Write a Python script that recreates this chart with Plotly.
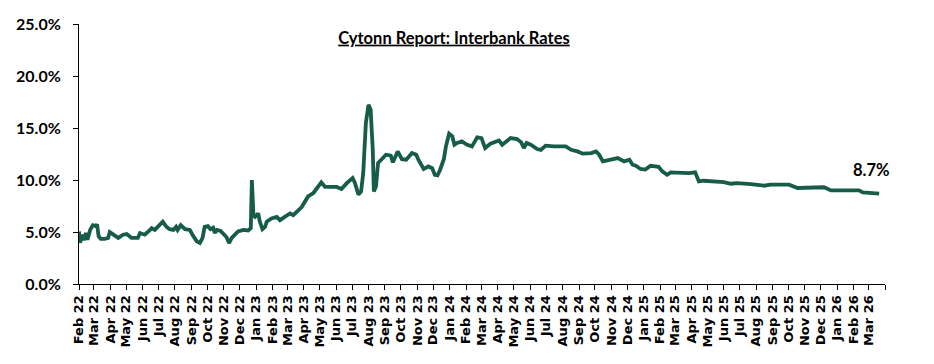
import pandas as pd
import plotly.graph_objects as go

# Days elapsed since 1 Feb 2022 and interbank rate (%)
day_offsets = [
    0, 2, 6, 9, 13, 16, 21, 26, 32, 34, 37, 41, 48, 55, 58, 64, 74, 83, 90, 99,
    111, 115, 124, 134, 137, 143, 149, 158, 165, 171, 178, 183, 186, 192, 200,
    209, 214, 222, 228, 233, 237, 243, 248, 253, 256, 260, 267, 273, 278, 283,
    288, 294, 300, 310, 319, 324, 326, 329, 332, 338, 341, 346, 351, 354, 363,
    373, 379, 388, 398, 404, 410, 420,
    432, 442, 457, 464, 486, 495, 505, 516, 520, 527, 532, 536, 541, 546, 550,
    554, 556, 560, 564, 571, 579, 588, 592, 601, 609, 617, 628, 636, 640, 650,
    659, 666, 671, 676, 681, 688, 692, 698, 704, 708, 713, 722, 732, 741, 751,
    759, 766, 776, 792, 798, 814, 826, 834, 839, 844, 852, 864, 871, 880, 896,
    918, 928, 940, 950, 966, 975, 981, 988,
    1004, 1016, 1028, 1038, 1044, 1050, 1059, 1068, 1078, 1093, 1100, 1109,
    1116, 1134, 1150, 1162, 1169, 1178, 1191, 1216, 1229, 1241, 1267, 1279,
    1292, 1304, 1339, 1355, 1380, 1405, 1418, 1449, 1471, 1478, 1494, 1509,
]
rates = [
    5.06, 3.97, 4.74, 4.2, 4.9, 4.26, 5.2, 5.65, 5.56, 5.75, 4.6, 4.33, 4.33,
    4.43, 4.99, 4.74, 4.43, 4.74, 4.8, 4.43, 4.43, 4.9, 4.74, 5.2, 5.37, 5.2,
    5.5, 6.0, 5.5, 5.27, 5.2, 5.5, 5.2, 5.65, 5.27, 5.2, 4.74, 4.1, 3.94, 4.43,
    5.5, 5.56, 5.27, 5.4, 4.9, 5.2, 5.1, 4.74, 4.52, 3.94, 4.43, 4.74, 5.06,
    5.2, 5.15, 5.37, 10.0, 6.6, 6.46, 6.78, 6.0, 5.27, 5.5, 6.0, 6.3, 6.46,
    6.14, 6.46, 6.78, 6.62, 6.94, 7.4,
    8.42, 8.75, 9.77, 9.33, 9.33, 9.13, 9.7, 10.19, 9.77, 8.59, 8.9, 10.67,
    15.48, 17.24, 16.76, 12.9, 8.9, 9.38, 11.63, 12.0, 12.43, 12.34, 11.7,
    12.75, 12.0, 11.95, 12.6, 12.43, 11.95, 11.06, 11.3, 11.14, 10.5, 10.45,
    10.99, 12.0, 13.23, 14.45, 14.19, 13.39, 13.56, 13.71, 13.39, 13.23, 14.1,
    14.03, 13.07, 13.5, 13.8, 13.39, 14.03, 13.94, 13.62, 13.07, 13.56, 13.39,
    12.98, 12.9, 13.3, 13.23, 13.23, 12.9, 12.75, 12.53, 12.59, 12.75, 12.43,
    11.79,
    11.95, 12.11, 11.79, 11.95, 11.47, 11.37, 11.06, 11.0, 11.37, 11.26, 10.83,
    10.5, 10.74, 10.67, 10.67, 10.74, 9.87, 9.93, 9.87, 9.8, 9.64, 9.7, 9.61,
    9.55, 9.45, 9.55, 9.55, 9.23, 9.23, 9.3, 9.0, 9.0, 9.0, 8.81, 8.74, 8.68,
]

tick_dates = pd.date_range("2022-02-01", "2026-04-01", freq="MS")
tick_labels = [d.strftime("%b %y") for d in tick_dates[:-1]] + [""]
y_ticks = [0, 5, 10, 15, 20, 25]
title_text = "Cytonn Report: Interbank Rates"
last_label = "8.7%"

dates = pd.Timestamp("2022-02-01") + pd.to_timedelta(day_offsets, unit="D")

fig = go.Figure()
fig.add_trace(go.Scatter(
    x=dates, y=rates, mode="lines",
    line=dict(color="#165c48", width=3.8),
    showlegend=False, hoverinfo="x+y",
))

fig.add_annotation(
    x=dates[-1], y=rates[-1], text="<b>" + last_label + "</b>",
    showarrow=False, xanchor="center", yanchor="bottom", yshift=12, xshift=-8,
    font=dict(family="Lato", size=16.5, color="black"),
)

# page body adds an 8px offset; sizes/margins compensate for it
fig.update_layout(
    width=926, height=356,
    margin=dict(l=71, r=49, t=16, b=80),
    paper_bgcolor="white", plot_bgcolor="white",
    title=dict(
        text="<b><u>" + title_text + "</u></b>",
        x=0.4816, xanchor="center", y=0.916, yanchor="middle",
        font=dict(family="Lato", size=16.5, color="black"),
    ),
)

fig.update_xaxes(
    type="date",
    range=[tick_dates[0], tick_dates[-1]],
    tickmode="array", tickvals=tick_dates, ticktext=tick_labels,
    tickangle=-90,
    tickfont=dict(family="DejaVu Sans", size=13, color="black", weight="bold"),
    showline=True, linecolor="black", linewidth=1,
    ticks="outside", ticklen=5, tickcolor="black", tickwidth=1,
    showgrid=False, zeroline=False, automargin=False,
)
fig.update_yaxes(
    range=[0, 25],
    tickmode="array", tickvals=y_ticks,
    ticktext=[f"{v:.1f}%" for v in y_ticks],
    tickfont=dict(family="Lato", size=16, color="black", weight="bold"),
    showline=True, linecolor="black", linewidth=1,
    ticks="outside", ticklen=5, tickcolor="black", tickwidth=1,
    ticklabelstandoff=9,
    showgrid=False, zeroline=False, automargin=False,
)

fig.write_html("out.html")
